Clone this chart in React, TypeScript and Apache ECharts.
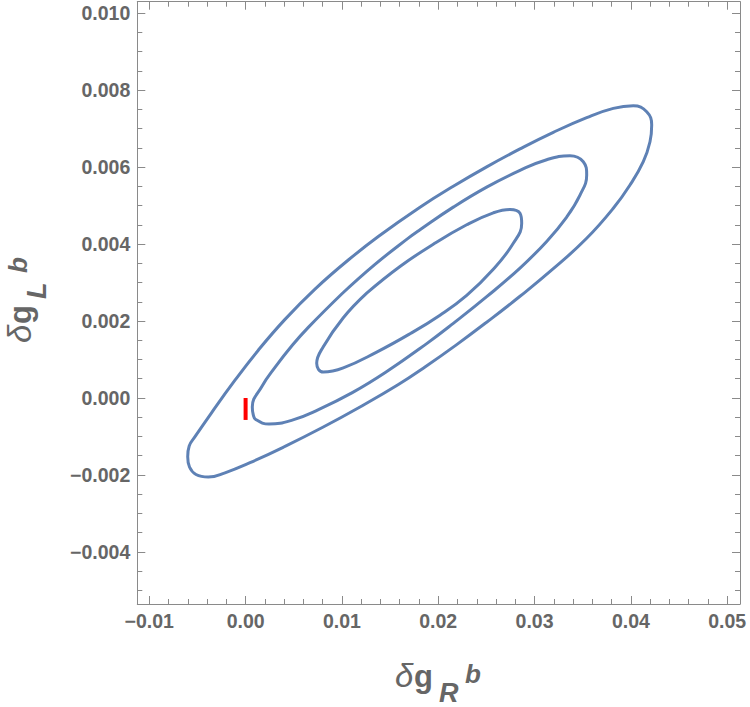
import React, { useEffect, useRef } from "react";
import * as echarts from "echarts";

// ---- axis tick labels ----
const X_TICKS = [-0.01, 0, 0.01, 0.02, 0.03, 0.04, 0.05];
const Y_TICKS = [-0.004, -0.002, 0, 0.002, 0.004, 0.006, 0.008, 0.01];

// ---- contour curves ----
const OUTER_X = [
  0.010662, 0.013777, 0.018106, 0.021564, 0.025031, 0.028488, 0.031946, 0.035413,
  0.038175, 0.040251, 0.041642, 0.042162, 0.041985, 0.041289, 0.039909, 0.038175,
  0.035413, 0.031946, 0.028488, 0.025031, 0.021917, 0.018625, 0.015822, 0.011877,
  0.008015, 0.004091, 0.000457, -0.002139, -0.003873, -0.00515, -0.005824, -0.006011,
  -0.005856, -0.005253, -0.00352, -0.0011, 0.001319, 0.004091, 0.007205, 0.010662,
];
const OUTER_Y = [
  0.003584, 0.004195, 0.004956, 0.005501, 0.006005, 0.00647, 0.006901, 0.007283,
  0.007522, 0.00759, 0.007436, 0.007091, 0.006657, 0.006138, 0.005532, 0.004927,
  0.004148, 0.003358, 0.002642, 0.001969, 0.001387, 0.000805, 0.000343, -0.000234,
  -0.000761, -0.001257, -0.001681, -0.001943, -0.002055, -0.001987, -0.001792, -0.001525,
  -0.001247, -0.001005, -0.000377, 0.000462, 0.001242, 0.002042, 0.002829, 0.003584,
];

const MIDDLE_X = [
  0.009977, 0.013434, 0.016892, 0.018106, 0.021564, 0.025031, 0.028488, 0.03126,
  0.03368, 0.03506, 0.035413, 0.034718, 0.033337, 0.03126, 0.028488, 0.025031,
  0.021564, 0.018802, 0.014545, 0.011078, 0.007621, 0.004848, 0.002429, 0.001049,
  0.000789, 0.000696, 0.001672, 0.003052, 0.004848, 0.00651, 0.009977,
];
const MIDDLE_Y = [
  0.002701, 0.00347, 0.004153, 0.004371, 0.004958, 0.005478, 0.005912, 0.00619,
  0.006294, 0.006138, 0.005792, 0.00527, 0.004701, 0.004068, 0.003374, 0.002631,
  0.001938, 0.001413, 0.000668, 0.000138, -0.000296, -0.000574, -0.000678, -0.000558,
  -0.000429, -0.000234, 0.000294, 0.000795, 0.001369, 0.001834, 0.002701,
];

const INNER_X = [
  0.012573, 0.01603, 0.019487, 0.022955, 0.025716, 0.02745, 0.028488, 0.028665,
  0.027793, 0.025716, 0.022955, 0.020183, 0.017068, 0.013611, 0.010143, 0.008067,
  0.007382, 0.008067, 0.010143, 0.012573,
];
const INNER_Y = [
  0.002725, 0.003416, 0.003995, 0.004499, 0.00481, 0.004896, 0.004797, 0.004538,
  0.004018, 0.003343, 0.002665, 0.002151, 0.001668, 0.001192, 0.000784, 0.000675,
  0.000901, 0.001332, 0.002086, 0.002725,
];

// red vertical marker
const MARKER_X = [0, 0];
const MARKER_Y = [0, -0.00057];

// ---- plot range ----
const X_MIN = -0.011244;
const X_MAX = 0.05133;
const Y_MIN = -0.005351;
const Y_MAX = 0.010294;

const FRAME = "#8a8a8a";
const LABEL = "#666666";
const CURVE = "#5E81B5";
const FONT = '"Liberation Sans", Arial, sans-serif';

function minorValues(kMin: number, kMax: number, step: number, every: number) {
  const out: number[] = [];
  for (let k = kMin; k <= kMax; k++) {
    if (k % every === 0) continue;
    out.push(Number((k * step).toFixed(5)));
  }
  return out;
}

const X_MINOR = minorValues(-5, 25, 0.002, 5);
const Y_MINOR = minorValues(-10, 20, 0.0005, 4);

function zip(xs: number[], ys: number[]) {
  return xs.map((x, i) => [x, ys[i]]);
}

const fmtX = (v: number) => (v < -1e-9 ? "\u2212" : "") + Math.abs(v).toFixed(2);
const fmtY = (v: number) => (v < -1e-9 ? "\u2212" : "") + Math.abs(v).toFixed(3);

function axis(
  kind: "x" | "y",
  position: string,
  line: boolean,
  ticks: number[],
  len: number,
  labels: boolean
) {
  const min = kind === "x" ? X_MIN : Y_MIN;
  const max = kind === "x" ? X_MAX : Y_MAX;
  return {
    type: "value",
    position,
    min,
    max,
    axisLine: { show: line, onZero: false, lineStyle: { color: FRAME, width: 1 } },
    axisTick: {
      show: true,
      inside: true,
      length: len,
      customValues: ticks,
      lineStyle: { color: FRAME, width: 1 },
    },
    axisLabel: labels
      ? {
          show: true,
          customValues: ticks,
          formatter: kind === "x" ? fmtX : fmtY,
          color: LABEL,
          fontSize: 19.5,
          fontWeight: "bold",
          fontFamily: FONT,
          margin: 7,
        }
      : { show: false },
    splitLine: { show: false },
  };
}

function txt(
  text: string,
  x: number,
  baseline: number,
  size: number,
  style: string,
  weight: string
) {
  return {
    type: "text",
    x,
    y: baseline - 0.3465 * size,
    silent: true,
    style: {
      text,
      fill: LABEL,
      font: `${style} ${weight} ${size}px ${FONT}`,
      align: "left",
      verticalAlign: "middle",
      textAlign: "left",
      textVerticalAlign: "middle",
    },
  };
}

function title(sub: string) {
  return [
    txt("\u03B4", 2, 0, 33, "italic", "normal"),
    txt("g", 21, 0, 31, "normal", "bold"),
    txt(sub, 46, 15, 27, "italic", "bold"),
    txt("b", 72, -4, 26, "italic", "bold"),
  ];
}

export default function App() {
  const ref = useRef<HTMLDivElement>(null);
  useEffect(() => {
    const chart = echarts.init(ref.current!, null, { renderer: "svg" });
    const lineSeries = (
      name: string,
      data: number[][],
      color: string,
      width: number,
      smooth: number | boolean
    ) => ({
      name,
      type: "line",
      xAxisIndex: 0,
      yAxisIndex: 0,
      data,
      symbol: "none",
      smooth,
      lineStyle: { color, width },
      silent: true,
    });
    chart.setOption({
      animation: false,
      backgroundColor: "#ffffff",
      grid: {
        left: 137.3,
        right: 10,
        top: 1.7,
        bottom: 103,
        containLabel: false,
        outerBoundsMode: "none",
      },
      xAxis: [
        axis("x", "bottom", true, X_TICKS, 8, true),
        axis("x", "bottom", false, X_MINOR, 5, false),
        axis("x", "top", true, X_TICKS, 8, false),
        axis("x", "top", false, X_MINOR, 5, false),
      ],
      yAxis: [
        axis("y", "left", true, Y_TICKS, 8, true),
        axis("y", "left", false, Y_MINOR, 5, false),
        axis("y", "right", true, Y_TICKS, 8, false),
        axis("y", "right", false, Y_MINOR, 5, false),
      ],
      series: [
        lineSeries("outer", zip(OUTER_X, OUTER_Y), CURVE, 3, 0.45),
        lineSeries("middle", zip(MIDDLE_X, MIDDLE_Y), CURVE, 3, 0.45),
        lineSeries("inner", zip(INNER_X, INNER_Y), CURVE, 3, 0.45),
        lineSeries("marker", zip(MARKER_X, MARKER_Y), "#ff0000", 4, false),
      ],
      graphic: [
        { type: "group", x: 393, y: 687, silent: true, children: title("R") },
        { type: "group", x: 31, y: 345, rotation: Math.PI / 2, silent: true, children: title("L") },
      ],
    });
    return () => chart.dispose();
  }, []);
  return (
    <div
      ref={ref}
      style={{ position: "absolute", left: 0, top: 0, width: 750, height: 707, background: "#fff" }}
    />
  );
}
